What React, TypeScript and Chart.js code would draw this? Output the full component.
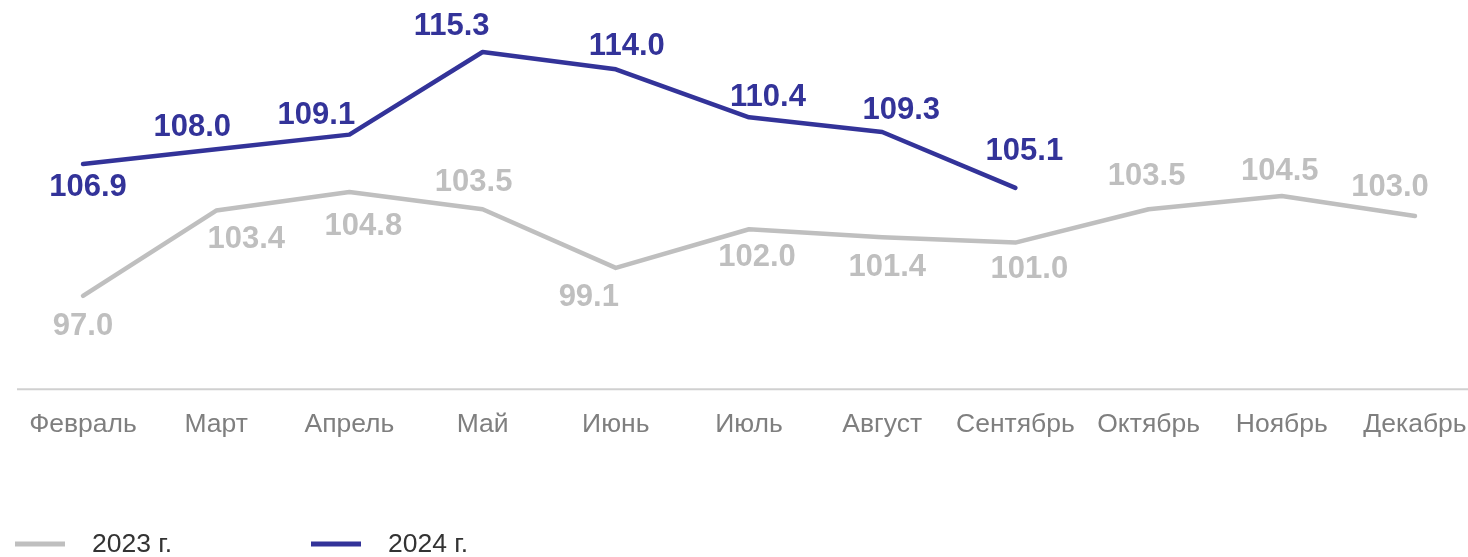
import React, { useEffect, useRef } from "react";
import { Chart, registerables } from "chart.js";

Chart.register(...registerables);

const months = ["Февраль", "Март", "Апрель", "Май", "Июнь", "Июль", "Август", "Сентябрь", "Октябрь", "Ноябрь", "Декабрь"];
const values2023 = [97.0, 103.4, 104.8, 103.5, 99.1, 102.0, 101.4, 101.0, 103.5, 104.5, 103.0];
const values2024 = [106.9, 108.0, 109.1, 115.3, 114.0, 110.4, 109.3, 105.1, null, null, null];
const seriesNames = ["2023 г.", "2024 г."];

// label placement (dx, dy) relative to the point
const labelOffsets2023 = [[0, 31], [30, 29], [14, 35], [-9, -27], [-27, 30], [8, 28], [5, 30], [14, 27], [-2, -33], [-2, -24], [-25, -28]];
const labelOffsets2024 = [[5, 24], [-24, -22], [-33, -19], [-31, -26], [11, -23], [19, -20], [19, -22], [9, -36]];

const COLOR_2023 = "#bfbfbf";
const COLOR_2024 = "#333399";
const FONT_FAMILY = "'Liberation Sans', Arial, sans-serif";

const baselinePlugin = {
  id: "baseline",
  beforeDatasetsDraw(chart: any) {
    const { ctx, chartArea } = chart;
    ctx.save();
    ctx.strokeStyle = "#d0d0d0";
    ctx.lineWidth = 2;
    ctx.beginPath();
    ctx.moveTo(17, chartArea.bottom);
    ctx.lineTo(chart.width, chartArea.bottom);
    ctx.stroke();
    ctx.restore();
  },
};

const valueLabelsPlugin = {
  id: "valueLabels",
  afterDatasetsDraw(chart: any) {
    const { ctx } = chart;
    const offsets = [labelOffsets2023, labelOffsets2024];
    ctx.save();
    ctx.font = `bold 31px ${FONT_FAMILY}`;
    ctx.textAlign = "center";
    ctx.textBaseline = "middle";
    chart.data.datasets.forEach((ds: any, di: number) => {
      const meta = chart.getDatasetMeta(di);
      ctx.fillStyle = ds.borderColor;
      meta.data.forEach((pt: any, i: number) => {
        const v = ds.data[i];
        if (v === null || v === undefined) return;
        const off = offsets[di][i] || [0, -25];
        ctx.fillText(v.toFixed(1), pt.x + off[0], pt.y + off[1]);
      });
    });
    ctx.restore();
  },
};

const legendPlugin = {
  id: "customLegend",
  afterDraw(chart: any) {
    const { ctx } = chart;
    const y = 544;
    const starts = [15, 311];
    ctx.save();
    ctx.font = `26.5px ${FONT_FAMILY}`;
    ctx.textBaseline = "middle";
    ctx.textAlign = "left";
    chart.data.datasets.forEach((ds: any, di: number) => {
      const x = starts[di];
      ctx.strokeStyle = ds.borderColor;
      ctx.lineWidth = 5;
      ctx.beginPath();
      ctx.moveTo(x, y);
      ctx.lineTo(x + 50, y);
      ctx.stroke();
      ctx.fillStyle = "#333333";
      ctx.fillText(ds.label, x + 77, y + 1);
    });
    ctx.restore();
  },
};

export default function App() {
  const canvasRef = useRef<HTMLCanvasElement | null>(null);

  useEffect(() => {
    if (!canvasRef.current) return;
    const chart = new Chart(canvasRef.current, {
      type: "line",
      data: {
        labels: months,
        datasets: [
          {
            label: seriesNames[0],
            data: values2023,
            borderColor: COLOR_2023,
            backgroundColor: COLOR_2023,
            borderWidth: 4.5,
            borderCapStyle: "round",
            borderJoinStyle: "round",
            pointRadius: 0,
            tension: 0,
            clip: false,
          },
          {
            label: seriesNames[1],
            data: values2024,
            borderColor: COLOR_2024,
            backgroundColor: COLOR_2024,
            borderWidth: 4.5,
            borderCapStyle: "round",
            borderJoinStyle: "round",
            pointRadius: 0,
            tension: 0,
            clip: false,
          },
        ],
      },
      options: {
        animation: false,
        responsive: true,
        maintainAspectRatio: false,
        layout: { padding: { left: 83, right: 53, top: 0, bottom: 116 } },
        plugins: {
          legend: { display: false },
          tooltip: { enabled: false },
        },
        scales: {
          x: {
            offset: false,
            grid: { display: false, tickLength: 20 },
            border: { display: false },
            ticks: {
              color: "#7f7f7f",
              padding: 0,
              maxRotation: 0,
              autoSkip: false,
              font: { family: FONT_FAMILY, size: 26.5 },
            },
          },
          y: {
            display: false,
            min: 90,
            max: 119.2,
          },
        },
      },
      plugins: [baselinePlugin, valueLabelsPlugin, legendPlugin],
    });
    return () => chart.destroy();
  }, []);

  return (
    <div style={{ position: "fixed", left: 0, top: 0, width: 1468, height: 557, background: "#fff" }}>
      <canvas ref={canvasRef} />
    </div>
  );
}
